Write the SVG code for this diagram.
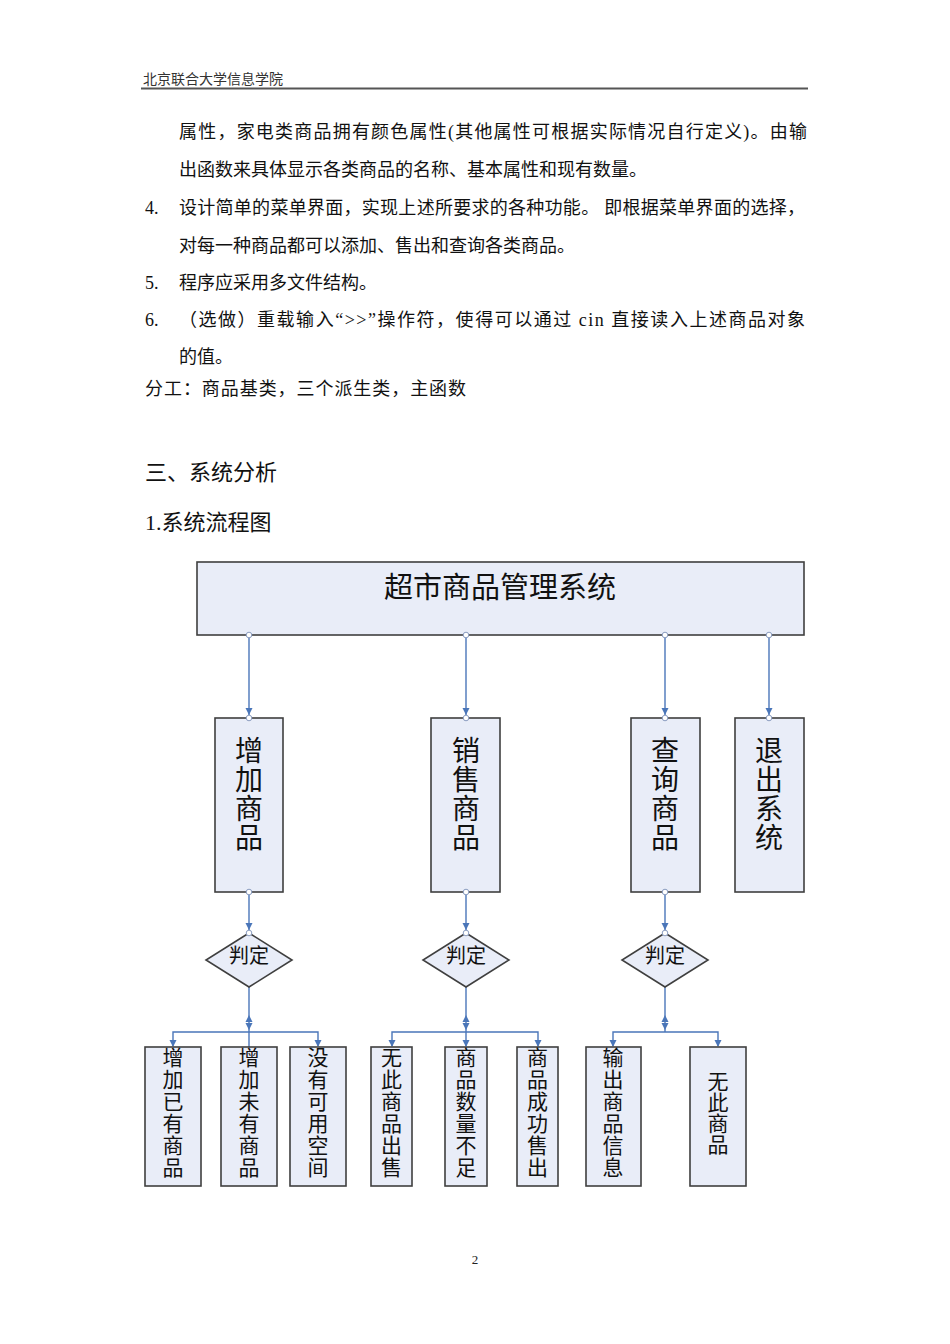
<svg xmlns="http://www.w3.org/2000/svg" xmlns:xlink="http://www.w3.org/1999/xlink" width="950" height="1344" viewBox="0 0 950 1344">
<style>
.body{font-family:"Liberation Serif","Noto Sans CJK SC",serif;font-size:18px;fill:#111}
.hdr{font-family:"Noto Sans CJK SC",sans-serif;font-size:14px;fill:#333}
.sec{font-family:"Liberation Serif","Noto Sans CJK SC",serif;font-size:22px;fill:#111}
.box{fill:#e9edf8;stroke:#3f3f3f;stroke-width:1.6}
.lbl{font-family:"Noto Sans CJK SC",sans-serif;fill:#111;text-anchor:middle}
.vt{font-family:"Noto Sans CJK SC",sans-serif;fill:#111;writing-mode:vertical-rl;text-orientation:upright}
.v28{font-size:28px;letter-spacing:1px}
.v21{font-size:21px;letter-spacing:1px}
.con{stroke:#4a76b9;stroke-width:1.4;fill:none}
.dot{fill:#fff;stroke:#8a9cc0;stroke-width:1}
.ah{fill:#4a76b9}
</style>
<defs>
<path id="ad" d="M-3.5,-7 L3.5,-7 L0,0 z"/>
<path id="au" d="M-3.5,7 L3.5,7 L0,0 z"/>
</defs>
<rect x="0" y="0" width="950" height="1344" fill="#fff"/>
<g id="header">
<text class="hdr" x="143" y="84">北京联合大学信息学院</text>
<line x1="141" y1="88.5" x2="808" y2="88.5" stroke="#555" stroke-width="2"/>
</g>
<g id="bodytext">
<text class="body" x="179" y="138" textLength="628" lengthAdjust="spacing">属性，家电类商品拥有颜色属性(其他属性可根据实际情况自行定义)。由输</text>
<text class="body" x="179" y="176">出函数来具体显示各类商品的名称、基本属性和现有数量。</text>
<text class="body" x="145" y="214">4.</text>
<text class="body" x="179" y="214" textLength="626" lengthAdjust="spacing">设计简单的菜单界面，实现上述所要求的各种功能。 即根据菜单界面的选择，</text>
<text class="body" x="179" y="252">对每一种商品都可以添加、售出和查询各类商品。</text>
<text class="body" x="145" y="289">5.</text>
<text class="body" x="179" y="289">程序应采用多文件结构。</text>
<text class="body" x="145" y="326">6.</text>
<text class="body" x="179" y="326" textLength="626" lengthAdjust="spacing">（选做）重载输入“&gt;&gt;”操作符，使得可以通过 cin 直接读入上述商品对象</text>
<text class="body" x="179" y="363">的值。</text>
<text class="body" x="145" y="395" textLength="321" lengthAdjust="spacing">分工：商品基类，三个派生类，主函数</text>
<text class="sec" x="145" y="480">三、系统分析</text>
<text class="sec" x="145" y="530">1.系统流程图</text>
</g>
<g id="connectors">
<line class="con" x1="249" y1="635" x2="249" y2="715"/>
<line class="con" x1="466" y1="635" x2="466" y2="715"/>
<line class="con" x1="665" y1="635" x2="665" y2="715"/>
<line class="con" x1="769" y1="635" x2="769" y2="715"/>
<use href="#ad" class="ah" x="249" y="715"/>
<use href="#ad" class="ah" x="466" y="715"/>
<use href="#ad" class="ah" x="665" y="715"/>
<use href="#ad" class="ah" x="769" y="715"/>
<line class="con" x1="249" y1="892" x2="249" y2="930"/>
<line class="con" x1="466" y1="892" x2="466" y2="930"/>
<line class="con" x1="665" y1="892" x2="665" y2="930"/>
<use href="#ad" class="ah" x="249" y="930"/>
<use href="#ad" class="ah" x="466" y="930"/>
<use href="#ad" class="ah" x="665" y="930"/>
<line class="con" x1="249" y1="987" x2="249" y2="1048"/>
<use href="#au" class="ah" x="249" y="1015"/>
<use href="#ad" class="ah" x="249" y="1030"/>
<polyline class="con" points="173,1046 173,1032 318,1032 318,1046"/>
<use href="#ad" class="ah" x="173" y="1047"/>
<use href="#ad" class="ah" x="318" y="1047"/>
<line class="con" x1="466" y1="987" x2="466" y2="1046"/>
<use href="#au" class="ah" x="466" y="1015"/>
<use href="#ad" class="ah" x="466" y="1030"/>
<use href="#ad" class="ah" x="466" y="1047"/>
<polyline class="con" points="392,1046 392,1032 538,1032 538,1046"/>
<use href="#ad" class="ah" x="392" y="1047"/>
<use href="#ad" class="ah" x="538" y="1047"/>
<line class="con" x1="665" y1="987" x2="665" y2="1032"/>
<use href="#au" class="ah" x="665" y="1015"/>
<use href="#ad" class="ah" x="665" y="1030"/>
<polyline class="con" points="613,1046 613,1032 718,1032 718,1046"/>
<use href="#ad" class="ah" x="613" y="1047"/>
<use href="#ad" class="ah" x="718" y="1047"/>
</g>
<g id="n-main">
<rect class="box" x="197" y="562" width="607" height="73"/>
<text class="lbl" x="500" y="598" font-size="29">超市商品管理系统</text>
</g>
<g id="n-add">
<rect class="box" x="215" y="718" width="68" height="174"/>
<text class="vt v28" x="249" y="736">增加商品</text>
</g>
<g id="n-sell">
<rect class="box" x="431" y="718" width="69" height="174"/>
<text class="vt v28" x="466" y="736">销售商品</text>
</g>
<g id="n-query">
<rect class="box" x="631" y="718" width="69" height="174"/>
<text class="vt v28" x="665" y="736">查询商品</text>
</g>
<g id="n-exit">
<rect class="box" x="735" y="718" width="69" height="174"/>
<text class="vt v28" x="769" y="736">退出系统</text>
</g>
<g id="n-judge1">
<polygon class="box" points="249,933 292,960 249,987 206,960" stroke="#888" stroke-width="1.2"/>
<text class="lbl" x="249" y="963" font-size="20">判定</text>
</g>
<g id="n-judge2">
<polygon class="box" points="466,933 509,960 466,987 423,960" stroke="#888" stroke-width="1.2"/>
<text class="lbl" x="466" y="963" font-size="20">判定</text>
</g>
<g id="n-judge3">
<polygon class="box" points="665,933 708,960 665,987 622,960" stroke="#888" stroke-width="1.2"/>
<text class="lbl" x="665" y="963" font-size="20">判定</text>
</g>
<g id="n-b1">
<rect class="box" x="145" y="1047" width="56" height="139"/>
<text class="vt v21" x="173" y="1047">增加已有商品</text>
</g>
<g id="n-b2">
<rect class="box" x="221" y="1047" width="56" height="139"/>
<text class="vt v21" x="249" y="1047">增加未有商品</text>
</g>
<g id="n-b3">
<rect class="box" x="290" y="1047" width="56" height="139"/>
<text class="vt v21" x="318" y="1047">没有可用空间</text>
</g>
<g id="n-b4">
<rect class="box" x="371" y="1047" width="41" height="139"/>
<text class="vt v21" x="391.5" y="1047">无此商品出售</text>
</g>
<g id="n-b5">
<rect class="box" x="445" y="1047" width="42" height="139"/>
<text class="vt v21" x="466" y="1047">商品数量不足</text>
</g>
<g id="n-b6">
<rect class="box" x="517" y="1047" width="41" height="139"/>
<text class="vt v21" x="537.5" y="1047">商品成功售出</text>
</g>
<g id="n-b7">
<rect class="box" x="586" y="1047" width="55" height="139"/>
<text class="vt v21" x="613" y="1047">输出商品信息</text>
</g>
<g id="n-b8">
<rect class="box" x="690" y="1047" width="56" height="139"/>
<text class="vt" x="718" y="1071" font-size="21">无此商品</text>
</g>
<g id="ports">
<circle class="dot" cx="249" cy="635" r="2.8"/>
<circle class="dot" cx="466" cy="635" r="2.8"/>
<circle class="dot" cx="665" cy="635" r="2.8"/>
<circle class="dot" cx="769" cy="635" r="2.8"/>
<circle class="dot" cx="249" cy="718" r="2.8"/>
<circle class="dot" cx="466" cy="718" r="2.8"/>
<circle class="dot" cx="665" cy="718" r="2.8"/>
<circle class="dot" cx="769" cy="718" r="2.8"/>
<circle class="dot" cx="249" cy="892" r="2.8"/>
<circle class="dot" cx="466" cy="892" r="2.8"/>
<circle class="dot" cx="665" cy="892" r="2.8"/>
<circle class="dot" cx="249" cy="933" r="2.8"/>
<circle class="dot" cx="466" cy="933" r="2.8"/>
<circle class="dot" cx="665" cy="933" r="2.8"/>
</g>
<text x="475" y="1264" font-family="Liberation Serif, serif" font-size="13" fill="#222" text-anchor="middle">2</text>
</svg>
